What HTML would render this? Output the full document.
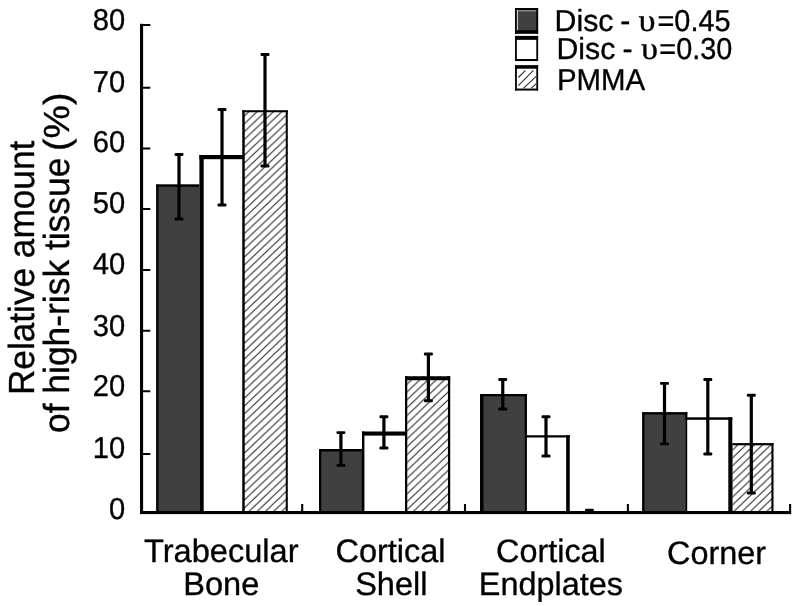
<!DOCTYPE html>
<html lang="en">
<head>
<meta charset="utf-8">
<title>Relative amount of high-risk tissue</title>
<style>
html,body{margin:0;padding:0;background:#fff;}
body{width:800px;height:606px;overflow:hidden;}
svg{display:block;}
svg text{font-family:'Liberation Sans', Arial, Helvetica, sans-serif;fill:#000;stroke:#000;stroke-width:0.35px;stroke-linejoin:round;text-rendering:geometricPrecision;}
</style>
</head>
<body>
<svg width="800" height="606" viewBox="0 0 800 606">
<defs>
<pattern id="h" patternUnits="userSpaceOnUse" width="8.22" height="7.84" x="2.0" y="503.9">
<rect width="8.22" height="7.84" fill="#fff"/>
<path d="M-8.22,15.68 L16.44,-7.84 M-8.22,7.84 L8.22,-7.84 M0,15.68 L16.44,0" stroke="#262626" stroke-width="1.02" fill="none"/>
</pattern>
</defs>
<rect width="800" height="606" fill="#fff"/>
<rect x="156.25" y="184.50" width="45.25" height="327.50" fill="#404040" /><rect x="156.25" y="184.50" width="2.25" height="327.50" fill="#000" /><rect x="199.25" y="184.50" width="2.25" height="327.50" fill="#000" /><rect x="156.25" y="184.50" width="45.25" height="2.25" fill="#000" />
<rect x="242.50" y="110.25" width="45.25" height="401.75" fill="url(#h)" /><rect x="242.50" y="110.25" width="2.00" height="401.75" fill="#000" /><rect x="285.75" y="110.25" width="2.00" height="401.75" fill="#000" /><rect x="242.50" y="110.25" width="45.25" height="2.00" fill="#000" />
<rect x="199.40" y="155.00" width="44.60" height="357.00" fill="#fff" /><rect x="199.40" y="155.00" width="4.30" height="357.00" fill="#000" /><rect x="242.50" y="155.00" width="1.50" height="357.00" fill="#000" /><rect x="199.40" y="155.00" width="44.60" height="4.20" fill="#000" />
<rect x="242.50" y="110.25" width="2.00" height="401.75" fill="#000" />
<rect x="319.00" y="449.00" width="45.00" height="63.00" fill="#404040" /><rect x="319.00" y="449.00" width="2.25" height="63.00" fill="#000" /><rect x="361.75" y="449.00" width="2.25" height="63.00" fill="#000" /><rect x="319.00" y="449.00" width="45.00" height="2.50" fill="#000" />
<rect x="405.00" y="376.25" width="45.20" height="135.75" fill="url(#h)" /><rect x="405.00" y="376.25" width="2.25" height="135.75" fill="#000" /><rect x="447.95" y="376.25" width="2.25" height="135.75" fill="#000" /><rect x="405.00" y="376.25" width="45.20" height="4.00" fill="#000" />
<rect x="362.00" y="431.50" width="45.00" height="80.50" fill="#fff" /><rect x="362.00" y="431.50" width="2.40" height="80.50" fill="#000" /><rect x="405.00" y="431.50" width="2.00" height="80.50" fill="#000" /><rect x="362.00" y="431.50" width="45.00" height="4.10" fill="#000" />
<rect x="480.00" y="394.00" width="46.90" height="118.00" fill="#404040" /><rect x="480.00" y="394.00" width="3.50" height="118.00" fill="#000" /><rect x="524.65" y="394.00" width="2.25" height="118.00" fill="#000" /><rect x="480.00" y="394.00" width="46.90" height="2.25" fill="#000" />
<rect x="524.90" y="435.25" width="44.85" height="76.75" fill="#fff" /><rect x="524.90" y="435.25" width="2.00" height="76.75" fill="#000" /><rect x="566.15" y="435.25" width="3.60" height="76.75" fill="#000" /><rect x="524.90" y="435.25" width="44.85" height="2.25" fill="#000" />
<rect x="585" y="508.8" width="8.8" height="3" rx="1.2" fill="#000"/>
<rect x="642.25" y="412.25" width="45.00" height="99.75" fill="#404040" /><rect x="642.25" y="412.25" width="2.25" height="99.75" fill="#000" /><rect x="685.00" y="412.25" width="2.25" height="99.75" fill="#000" /><rect x="642.25" y="412.25" width="45.00" height="2.25" fill="#000" />
<rect x="730.00" y="443.10" width="43.50" height="68.90" fill="url(#h)" /><rect x="730.00" y="443.10" width="2.50" height="68.90" fill="#000" /><rect x="771.40" y="443.10" width="2.10" height="68.90" fill="#000" /><rect x="730.00" y="443.10" width="43.50" height="2.20" fill="#000" />
<rect x="685.20" y="417.30" width="47.10" height="94.70" fill="#fff" /><rect x="685.20" y="417.30" width="2.00" height="94.70" fill="#000" /><rect x="728.30" y="417.30" width="4.00" height="94.70" fill="#000" /><rect x="685.20" y="417.30" width="47.10" height="2.50" fill="#000" />
<rect x="177.40" y="154.50" width="3.20" height="64.50" fill="#000" /><rect x="174.50" y="153.05" width="9.0" height="2.9" rx="1.2" fill="#000"/><rect x="174.50" y="217.55" width="9.0" height="2.9" rx="1.2" fill="#000"/>
<rect x="220.40" y="109.50" width="3.20" height="95.50" fill="#000" /><rect x="217.50" y="108.05" width="9.0" height="2.9" rx="1.2" fill="#000"/><rect x="217.50" y="203.55" width="9.0" height="2.9" rx="1.2" fill="#000"/>
<rect x="263.40" y="54.50" width="3.20" height="111.50" fill="#000" /><rect x="260.50" y="53.05" width="9.0" height="2.9" rx="1.2" fill="#000"/><rect x="260.50" y="164.55" width="9.0" height="2.9" rx="1.2" fill="#000"/>
<rect x="339.30" y="432.60" width="3.20" height="32.80" fill="#000" /><rect x="336.40" y="431.15" width="9.0" height="2.9" rx="1.2" fill="#000"/><rect x="336.40" y="463.95" width="9.0" height="2.9" rx="1.2" fill="#000"/>
<rect x="382.30" y="416.70" width="3.20" height="31.30" fill="#000" /><rect x="379.40" y="415.25" width="9.0" height="2.9" rx="1.2" fill="#000"/><rect x="379.40" y="446.55" width="9.0" height="2.9" rx="1.2" fill="#000"/>
<rect x="426.80" y="354.00" width="3.20" height="46.80" fill="#000" /><rect x="423.90" y="352.55" width="9.0" height="2.9" rx="1.2" fill="#000"/><rect x="423.90" y="399.35" width="9.0" height="2.9" rx="1.2" fill="#000"/>
<rect x="501.15" y="379.50" width="3.20" height="29.50" fill="#000" /><rect x="498.25" y="378.05" width="9.0" height="2.9" rx="1.2" fill="#000"/><rect x="498.25" y="407.55" width="9.0" height="2.9" rx="1.2" fill="#000"/>
<rect x="544.40" y="416.70" width="3.20" height="39.30" fill="#000" /><rect x="541.50" y="415.25" width="9.0" height="2.9" rx="1.2" fill="#000"/><rect x="541.50" y="454.55" width="9.0" height="2.9" rx="1.2" fill="#000"/>
<rect x="662.90" y="383.40" width="3.20" height="60.50" fill="#000" /><rect x="660.00" y="381.95" width="9.0" height="2.9" rx="1.2" fill="#000"/><rect x="660.00" y="442.45" width="9.0" height="2.9" rx="1.2" fill="#000"/>
<rect x="706.20" y="379.50" width="3.20" height="74.50" fill="#000" /><rect x="703.30" y="378.05" width="9.0" height="2.9" rx="1.2" fill="#000"/><rect x="703.30" y="452.55" width="9.0" height="2.9" rx="1.2" fill="#000"/>
<rect x="749.70" y="395.30" width="3.20" height="97.70" fill="#000" /><rect x="746.80" y="393.85" width="9.0" height="2.9" rx="1.2" fill="#000"/><rect x="746.80" y="491.55" width="9.0" height="2.9" rx="1.2" fill="#000"/>
<rect x="140.00" y="23.80" width="3.10" height="490.20" fill="#000" />
<rect x="140.00" y="511.00" width="651.20" height="3.10" fill="#000" />
<rect x="143.00" y="24.00" width="7.30" height="2.00" fill="#000" />
<rect x="143.00" y="86.75" width="7.30" height="2.00" fill="#000" />
<rect x="143.00" y="147.50" width="7.30" height="2.00" fill="#000" />
<rect x="143.00" y="208.00" width="7.30" height="2.00" fill="#000" />
<rect x="143.00" y="269.00" width="7.30" height="2.00" fill="#000" />
<rect x="143.00" y="329.75" width="7.30" height="2.00" fill="#000" />
<rect x="143.00" y="390.25" width="7.30" height="2.00" fill="#000" />
<rect x="143.00" y="453.00" width="7.30" height="2.00" fill="#000" />
<rect x="301.15" y="504.00" width="2.10" height="7.50" fill="#000" />
<rect x="463.95" y="504.00" width="2.10" height="7.50" fill="#000" />
<rect x="626.85" y="504.00" width="2.10" height="7.50" fill="#000" />
<rect x="789.05" y="504.00" width="2.10" height="7.50" fill="#000" />
<rect x="515.05" y="8.05" width="23.05" height="25.60" fill="#404040" /><rect x="515.05" y="8.05" width="1.80" height="25.60" fill="#000" /><rect x="536.30" y="8.05" width="1.80" height="25.60" fill="#000" /><rect x="515.05" y="8.05" width="23.05" height="2.00" fill="#000" /><rect x="515.05" y="30.15" width="23.05" height="3.50" fill="#000" />
<rect x="516.85" y="10.05" width="19.45" height="1.35" fill="#8c8c8c" />
<rect x="516.85" y="10.05" width="0.95" height="20.15" fill="#ececec" />
<rect x="515.05" y="35.90" width="23.05" height="25.15" fill="#fff" /><rect x="515.05" y="35.90" width="1.80" height="25.15" fill="#000" /><rect x="536.30" y="35.90" width="1.80" height="25.15" fill="#000" /><rect x="515.05" y="35.90" width="23.05" height="3.95" fill="#000" /><rect x="515.05" y="59.00" width="23.05" height="2.05" fill="#000" />
<rect x="515.05" y="65.15" width="23.05" height="25.40" fill="#fff" /><rect x="515.05" y="65.15" width="1.80" height="25.40" fill="#000" /><rect x="536.30" y="65.15" width="1.80" height="25.40" fill="#000" /><rect x="515.05" y="65.15" width="23.05" height="3.55" fill="#000" /><rect x="515.05" y="88.55" width="23.05" height="2.00" fill="#000" />
<path d="M518.3,77.5 L525.5,70.3 M518.3,85.6 L533.4,70.3 M523.2,88.3 L536.3,76.4 M531,88.3 L536.3,83.6" stroke="#2e2e2e" stroke-width="1.1" fill="none"/>
<g style="opacity:0.999">
<text transform="translate(125.2,30.30) scale(0.965,1)" font-size="30.2" text-anchor="end">80</text>
<text transform="translate(125.2,92.20) scale(0.965,1)" font-size="30.2" text-anchor="end">70</text>
<text transform="translate(125.2,152.30) scale(0.965,1)" font-size="30.2" text-anchor="end">60</text>
<text transform="translate(125.2,213.20) scale(0.965,1)" font-size="30.2" text-anchor="end">50</text>
<text transform="translate(125.2,274.30) scale(0.965,1)" font-size="30.2" text-anchor="end">40</text>
<text transform="translate(125.2,336.30) scale(0.965,1)" font-size="30.2" text-anchor="end">30</text>
<text transform="translate(125.2,396.30) scale(0.965,1)" font-size="30.2" text-anchor="end">20</text>
<text transform="translate(125.2,457.50) scale(0.965,1)" font-size="30.2" text-anchor="end">10</text>
<text transform="translate(125.2,518.50) scale(0.965,1)" font-size="30.2" text-anchor="end">0</text>
<text x="221.3" y="561.9" font-size="32.6" text-anchor="middle">Trabecular</text>
<text x="221.3" y="594.9" font-size="32.6" text-anchor="middle">Bone</text>
<text x="390.5" y="562.0" font-size="32.5" text-anchor="middle">Cortical</text>
<text x="391.3" y="594.9" font-size="32.5" text-anchor="middle">Shell</text>
<text x="550.9" y="562.0" font-size="32.4" text-anchor="middle">Cortical</text>
<text x="550.9" y="594.9" font-size="32.4" text-anchor="middle">Endplates</text>
<text x="716.5" y="563.5" font-size="32.4" text-anchor="middle">Corner</text>
<text transform="translate(33.7,267.9) rotate(-90) scale(0.970,1)" font-size="36.3" text-anchor="middle">Relative amount</text>
<text transform="translate(69.2,92.6) rotate(-90) scale(0.975,1)" font-size="36.3" text-anchor="end">of high-risk tissue <tspan dx="-3.2" textLength="59.8" lengthAdjust="spacingAndGlyphs">(%)</tspan></text>
<text y="30.6" font-size="30.3"><tspan x="554.6">Disc </tspan><tspan x="620.3">- </tspan><tspan x="638.6" font-family="'Liberation Serif', 'DejaVu Serif', serif" font-size="32" textLength="17.0" lengthAdjust="spacingAndGlyphs">υ</tspan><tspan x="657.5" textLength="73.0" lengthAdjust="spacingAndGlyphs">=0.45</tspan></text>
<text y="59.4" font-size="30.3"><tspan x="556.4">Disc </tspan><tspan x="622.6">- </tspan><tspan x="641.1" font-family="'Liberation Serif', 'DejaVu Serif', serif" font-size="32" textLength="17.0" lengthAdjust="spacingAndGlyphs">υ</tspan><tspan x="659.3" textLength="73.0" lengthAdjust="spacingAndGlyphs">=0.30</tspan></text>
<text x="557.0" y="89.5" font-size="30.3" textLength="88.2" lengthAdjust="spacingAndGlyphs">PMMA</text>
</g>
</svg>
</body>
</html>
